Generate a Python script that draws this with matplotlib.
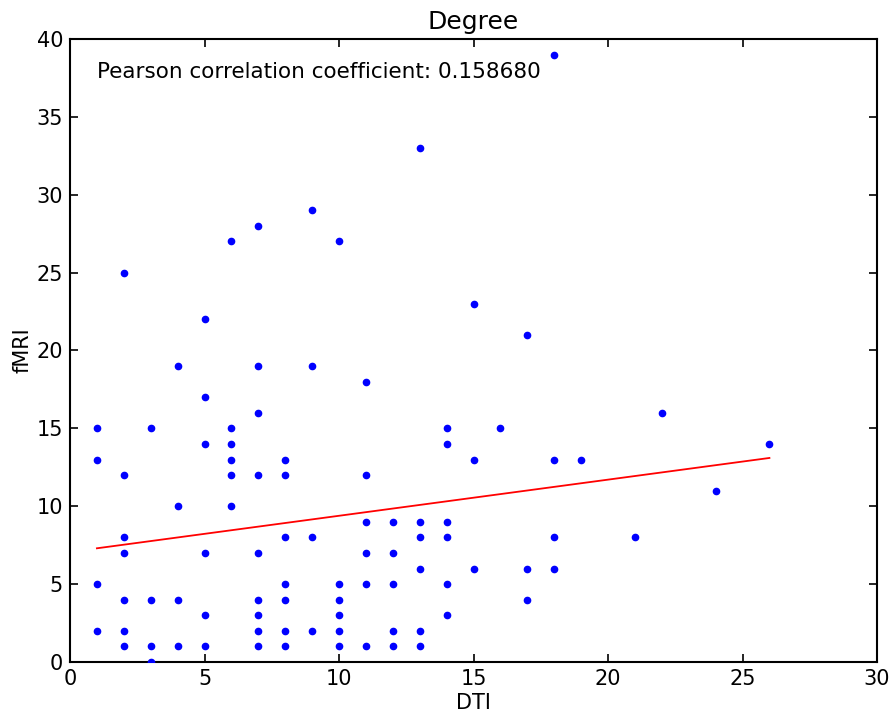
import numpy as np
import matplotlib
matplotlib.use("Agg")
import matplotlib.pyplot as plt

dti = [1, 1, 1, 1,
       2, 2, 2, 2, 2, 2, 2,
       3, 3, 3, 3,
       4, 4, 4, 4,
       5, 5, 5, 5, 5, 5,
       6, 6, 6, 6, 6, 6,
       7, 7, 7, 7, 7, 7, 7, 7, 7,
       8, 8, 8, 8, 8, 8, 8,
       9, 9, 9, 9,
       10, 10, 10, 10, 10, 10,
       11, 11, 11, 11, 11, 11,
       12, 12, 12, 12, 12,
       13, 13, 13, 13, 13, 13,
       14, 14, 14, 14, 14, 14,
       15, 15, 15,
       16,
       17, 17, 17,
       18, 18, 18, 18,
       19, 21, 22, 24, 26]
fmri = [15, 13, 5, 2,
        25, 12, 8, 7, 4, 2, 1,
        15, 4, 1, 0,
        19, 10, 4, 1,
        22, 17, 14, 7, 3, 1,
        27, 15, 14, 13, 12, 10,
        28, 19, 16, 12, 7, 4, 3, 2, 1,
        13, 12, 8, 5, 4, 2, 1,
        29, 19, 8, 2,
        27, 5, 4, 3, 2, 1,
        18, 12, 9, 7, 5, 1,
        9, 7, 5, 2, 1,
        33, 9, 8, 6, 2, 1,
        15, 14, 9, 8, 5, 3,
        23, 13, 6,
        15,
        21, 6, 4,
        39, 13, 8, 6,
        13, 8, 16, 11, 14]

# regression line (endpoints)
fit_x = [1, 26]
fit_y = [7.3, 13.1]

title = "Degree"
xlabel = "DTI"
ylabel = "fMRI"
annot = "Pearson correlation coefficient: 0.158680"

fig = plt.figure(figsize=(8.93, 7.18), dpi=100)
ax = fig.add_axes([0.0784, 0.078, 0.9037, 0.8677])
ax.plot(dti, fmri, 'b.', markersize=9, zorder=3)
ax.plot(fit_x, fit_y, color='red', linewidth=1.3)
ax.set_xlim(0, 30)
ax.set_ylim(0, 40)
ax.set_xticks(range(0, 31, 5))
ax.set_yticks(range(0, 41, 5))
ax.tick_params(direction='in', top=True, right=True, length=6, width=1.2,
               labelsize=15, pad=5)
for s in ax.spines.values():
    s.set_linewidth(1.5)
ax.set_title(title, fontsize=18, pad=7)
ax.set_xlabel(xlabel, fontsize=15, labelpad=3)
ax.set_ylabel(ylabel, fontsize=15, labelpad=3)
ax.text(1, 37.5, annot, fontsize=15.5)
fig.savefig("out.png", dpi=100)
